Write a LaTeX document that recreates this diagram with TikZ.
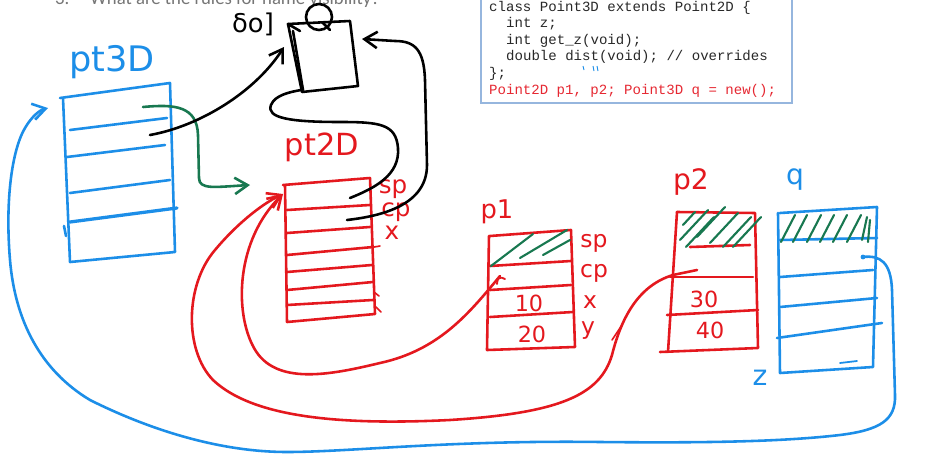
\documentclass[tikz,border=0pt]{standalone}
\usepackage{fontspec}
\setmainfont{Liberation Sans}
\newfontfamily\codefont{Liberation Mono}
\newfontfamily\titlefont{Carlito}
\newfontfamily\handfont{DejaVu Sans}
\usetikzlibrary{arrows.meta}
\definecolor{inkblue}{RGB}{28,142,232}
\definecolor{inkred}{RGB}{228,24,30}
\definecolor{inkgreen}{RGB}{24,120,80}
\definecolor{boxblue}{RGB}{150,182,222}
\definecolor{titlegray}{RGB}{118,118,118}
\definecolor{codered}{RGB}{230,40,50}
\definecolor{codeblack}{RGB}{40,40,40}
\tikzset{
  pen/.style={line width=2.2pt, line cap=round, line join=round},
  bluepen/.style={pen, draw=inkblue},
  redpen/.style={pen, draw=inkred},
  greenpen/.style={pen, draw=inkgreen},
  blackpen/.style={pen, draw=black},
  hatchpen/.style={line width=1.8pt, line cap=round, draw=inkgreen},
  tip/.style={-{Straight Barb[length=11pt,width=14pt,line width=2.2pt]}},
  hand/.style={inner sep=0pt, font=\handfont\fontsize{#1}{#1}\selectfont},
  codeline/.style={anchor=base west, inner sep=0pt, font=\codefont\fontsize{12}{14}\selectfont, text=codeblack},
}
\begin{document}
\begin{tikzpicture}[x=0.03cm, y=-0.03cm]
\useasboundingbox (0,0) rectangle (940,473);
\fill[white] (0,0) rectangle (940,473);
\clip (0,0) rectangle (940,473);

% ---------- title (cut at top, as in the reference) ----------
\node[anchor=base west, inner sep=0pt, text=titlegray, font=\titlefont\fontsize{16}{18}\selectfont] (qnum) at (55,4) {3.};
\node[anchor=base west, inner sep=0pt, text=titlegray, font=\titlefont\fontsize{16}{18}\selectfont] (title) at (90,4) {What are the rules for name visibility?};

% ---------- code box ----------
\draw[boxblue, line width=1pt] (481,-5) rectangle (792,103);
\node[codeline] (c1) at (489,11) {class Point3D extends Point2D \{};
\node[codeline] (c2) at (506,27.6) {int z;};
\node[codeline] (c3) at (506,44.2) {int get\_z(void);};
\node[codeline] (c4) at (506,60.8) {double dist(void); // overrides};
\node[codeline] (c5) at (489,77.4) {\};};
\node[codeline, text=codered] (c6) at (489,94) {Point2D p1, p2; Point3D q = new();};
\draw[inkblue, line width=0.8pt] (583,66) -- (584,70) (593,66) -- (594,71) (597,66) -- (598,71);

% ---------- black "object" box with head ----------
\draw[blackpen] (288,24) -- (350,21) -- (358,86) -- (302,92) -- cycle;
\draw[blackpen] (293,31) -- (303,90);
\draw[blackpen] (288,24) -- (300,31);
\draw[blackpen] (319,17) circle (13);
\draw[blackpen] (322,22) -- (330,30);
\node[hand=22, text=black] (doodle) at (253,24) {δo]};

% ---------- pt3D (blue) ----------
\node[hand=30, text=inkblue] (lab3d) at (112,62) {pt3D};
\draw[bluepen] (60,98) -- (170,83) -- (175,252) -- (70,262) -- (63,98);
\draw[bluepen] (70,130) -- (167,118);
\draw[bluepen] (67,157) -- (165,145);
\draw[bluepen] (70,193) -- (170,180);
\draw[bluepen, line width=2.8pt] (70,222) -- (177,208);
\draw[bluepen] (64,226) -- (66,236);

% ---------- pt2D (red) ----------
\node[hand=26, text=inkred] (lab2d) at (322,147) {pt2D};
\draw[redpen] (283,185) -- (370,178) -- (375,314) -- (287,322) -- (285,185);
\draw[redpen] (287,210) -- (370,205);
\draw[redpen] (287,233) -- (370,227);
\draw[redpen] (287,255) -- (373,247);
\draw[redpen] (287,272) -- (372,265);
\draw[redpen] (287,290) -- (373,282);
\draw[redpen] (287,305) -- (373,300);
\draw[redpen, line width=1.4pt] (374,247) -- (380,246) (374,292) -- (379,296) (376,307) -- (381,312);
\node[hand=21, text=inkred] (sp2) at (393,189) {sp};
\node[hand=21, text=inkred] (cp2) at (396,212) {cp};
\node[hand=21, text=inkred] (x2) at (392,233) {x};

% ---------- p1 ----------
\node[hand=22, text=inkred] (labp1) at (497,212) {p1};
\draw[redpen] (490,236) -- (571,230) -- (575,347) -- (487,350) -- (489,236);
\draw[redpen] (490,266) -- (571,261);
\draw[redpen] (490,290) -- (571,285);
\draw[redpen] (490,317) -- (573,312);
\draw[hatchpen] (491,266) -- (533,234);
\draw[hatchpen] (520,258) -- (567,230);
\draw[hatchpen] (543,255) -- (570,240);
\node[hand=20, text=inkred] (sp1) at (594,243) {sp};
\node[hand=20, text=inkred] (cp1) at (594,273) {cp};
\node[hand=20, text=inkred] (x1) at (590,302) {x};
\node[hand=20, text=inkred] (y1) at (588,331) {y};
\node[hand=19, text=inkred] (v10) at (529,303) {10};
\node[hand=19, text=inkred] (v20) at (532,334) {20};

% ---------- p2 ----------
\node[hand=24, text=inkred] (labp2) at (691,182) {p2};
\draw[redpen] (677,212) -- (755,213) -- (758,348) -- (660,352);
\draw[redpen] (677,212) -- (668,352);
\draw[redpen] (690,247) -- (750,245);
\draw[redpen] (670,277) -- (753,277);
\draw[redpen] (667,315) -- (758,310);
\foreach \a/\b in {680/240, 686/247, 697/237, 710/243, 723/247, 733/247}{
  \draw[hatchpen] (\a,\b) -- ++(28,-30);
}
\draw[hatchpen] (683,225) -- (695,212);
\node[hand=19, text=inkred] (v30) at (704,299) {30};
\node[hand=19, text=inkred] (v40) at (710,330) {40};

% ---------- q (blue) ----------
\node[hand=24, text=inkblue] (labq) at (795,180) {q};
\draw[bluepen] (780,213) -- (877,207) -- (873,367) -- (780,373) -- (778,213);
\draw[bluepen] (780,240) -- (877,238);
\draw[bluepen] (780,277) -- (873,270);
\draw[bluepen] (780,307) -- (877,298);
\draw[bluepen] (777,338) -- (882,323);
\draw[bluepen, line width=1.5pt] (840,363) -- (857,361);
\foreach \a in {781,793,807,820,833,847}{
  \draw[hatchpen] (\a,242) -- ++(14,-27);
}
\draw[hatchpen] (862,240) -- (867,217);
\draw[hatchpen] (868,242) -- (870,220);
\node[hand=24, text=inkblue] (labz) at (760,378) {z};

% ---------- connector end points ----------
\coordinate (g1s) at (143,107);
\coordinate (g1e) at (250,185);
\coordinate (b1s) at (150,135);
\coordinate (b1e) at (284,47);
\coordinate (b2s) at (350,198);
\coordinate (b2e) at (301,90);
\coordinate (b3s) at (347,220);
\coordinate (b3e) at (362,39);
\coordinate (r1s) at (500,276);
\coordinate (r2s) at (697,270);
\coordinate (r1e) at (283,194);
\coordinate (qs) at (863,257);
\coordinate (qe) at (48,108);

% green: pt3D -> pt2D
\draw[greenpen, tip] (g1s) .. controls (175,104) and (197,106) .. (198,135)
  -- (199,178) .. controls (199,190) and (215,187) .. (g1e);

% black: pt3D -> object box
\draw[blackpen, tip] (b1s) .. controls (200,126) and (255,92) .. (b1e);

% black: pt2D sp -> object box
\draw[blackpen] (b2s) .. controls (375,188) and (400,175) .. (398,148)
  .. controls (396,124) and (380,122) .. (340,122)
  .. controls (290,122) and (266,118) .. (271,105)
  .. controls (275,95) and (290,92) .. (b2e);

% black: pt2D cp -> object box
\draw[blackpen, tip] (b3s) .. controls (382,216) and (427,205) .. (427,165)
  -- (425,80) .. controls (424,50) and (415,41) .. (395,41) -- (b3e);

% red: p1 cp -> pt2D
\draw[redpen, tip] (r1s) .. controls (470,312) and (440,350) .. (380,363)
  .. controls (330,375) and (275,386) .. (254,348)
  .. controls (234,312) and (236,240) .. (r1e);
\draw[redpen, line width=1.6pt] (497,284) .. controls (497,278) and (500,276) .. (505,279);

% red: p2 cp -> pt2D
\draw[redpen, tip] (r2s) -- (673,275) .. controls (640,285) and (622,315) .. (612,355)
  .. controls (600,395) and (560,413) .. (450,420)
  .. controls (330,426) and (250,415) .. (213,380)
  .. controls (184,350) and (185,285) .. (215,250)
  .. controls (235,226) and (260,205) .. (r1e);
\draw[redpen, line width=1.4pt] (612,340) -- (622,325);

% blue: q -> pt3D
\fill[inkblue] (qs) circle (2.4);
\draw[bluepen, tip] (qs) .. controls (880,255) and (891,262) .. (892,290)
  -- (895,395) .. controls (896,420) and (880,430) .. (840,435)
  .. controls (780,442) and (700,443) .. (600,442)
  .. controls (450,440) and (350,452) .. (287,452)
  .. controls (220,452) and (150,430) .. (90,400)
  .. controls (40,370) and (15,320) .. (10,260)
  .. controls (5,200) and (12,150) .. (25,128)
  .. controls (32,116) and (40,110) .. (qe);
\end{tikzpicture}
\end{document}
